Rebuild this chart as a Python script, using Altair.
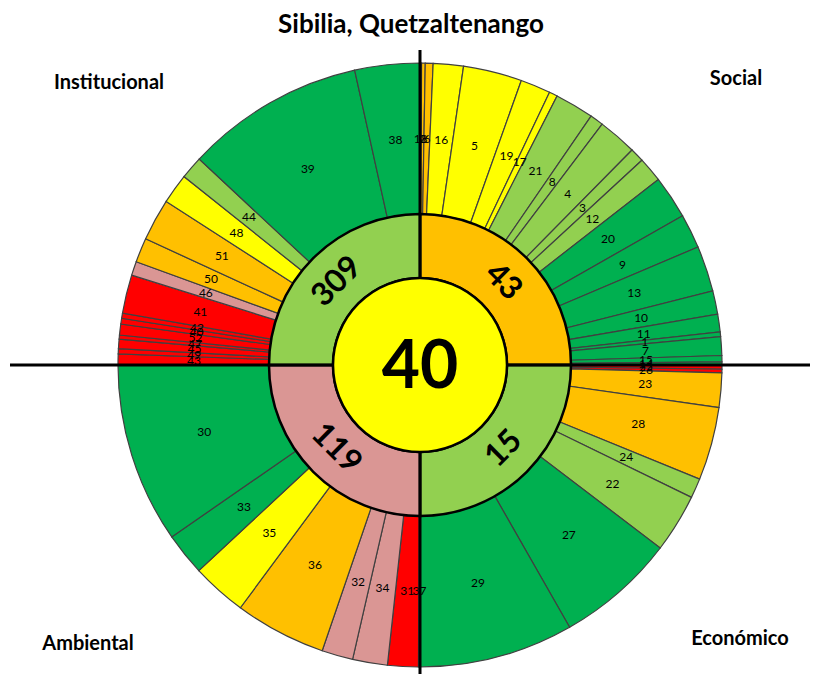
import math
import altair as alt
import pandas as pd

# ---------------- data ----------------
title_text = "Sibilia, Quetzaltenango"
center_value = [40]

# outer ring: indicator number, angular share (degrees of 360), level class
outer_labels = ["18", "2", "6", "16", "5", "19", "17", "21", "8", "4", "3", "12",
                "20", "9", "13", "10", "11", "1", "7", "15", "14",
                "25", "26", "23", "28", "24", "22", "27", "29",
                "37", "31", "34", "32", "36", "35", "33", "30",
                "43", "49", "45", "47", "52", "40", "42", "41", "46", "50", "51",
                "48", "44", "39", "38"]
outer_spans = [0.3, 0.7, 1.5, 5.8, 11.3, 5.8, 1.6, 7.5, 2.6, 7.5, 2.7, 4.8,
               8.3, 6.6, 8.8, 4.5, 3.4, 0.9, 3.6, 1.2, 0.6,
               0.8, 0.7, 6.6, 14.1, 3.8, 11.3, 23.0, 29.7,
               0.3, 5.9, 6.7, 6.0, 17.6, 10.6, 8.2, 34.7,
               2.1, 1.0, 1.8, 0.8, 2.1, 1.1, 1.0, 7.4, 2.7, 4.7, 8.1,
               5.8, 4.4, 34.5, 12.5]
outer_levels = ["r", "o", "o", "y", "y", "y", "y", "lg", "lg", "lg", "lg", "lg",
                "g", "g", "g", "g", "g", "g", "g", "g", "g",
                "r", "r", "o", "o", "lg", "lg", "g", "g",
                "r", "r", "p", "p", "o", "y", "g", "g",
                "r", "r", "r", "r", "r", "r", "r", "r", "p", "o", "o",
                "y", "lg", "g", "g"]

# inner ring: dimensions
ring_names = ["Social", "Económico", "Ambiental", "Institucional"]
ring_values = [43, 15, 119, 309]
ring_spans = [90, 90, 90, 90]
ring_levels = ["o", "lg", "p", "lg"]

level_domain = ["g", "lg", "y", "o", "r", "p", "c"]
level_range = ["#00B050", "#92D050", "#FFFF00", "#FFC000", "#FF0000", "#DA9694", "#FFFF00"]

# ---------------- chart ----------------
FONT = "Lato"
CX, CY = 412, 357
R_OUT, R_MID, R_IN = 302, 151, 87

theta_scale = alt.Scale(domain=[0, 360], range=[0, 2 * math.pi])
color_scale = alt.Scale(domain=level_domain, range=level_range)

outer_df = pd.DataFrame({"idx": list(range(len(outer_labels))), "label": outer_labels,
                         "span": outer_spans, "level": outer_levels})
ring_df = pd.DataFrame({"idx": list(range(4)), "name": ring_names, "value": ring_values,
                        "span": ring_spans, "level": ring_levels})


def cumulate(df):
    return (alt.Chart(df)
            .transform_window(end="sum(span)", sort=[alt.SortField("idx")], frame=[None, 0])
            .transform_calculate(start="datum.end - datum.span",
                                 mid="datum.end - datum.span / 2"))


outer_base = cumulate(outer_df)
ring_base = cumulate(ring_df)

pos = dict(x=alt.value(CX), y=alt.value(CY))

outer_arcs = outer_base.mark_arc(radius=R_OUT, radius2=R_MID, stroke="#404040", strokeWidth=1.2).encode(
    theta=alt.Theta("start:Q", scale=theta_scale, stack=False),
    theta2="end:Q",
    color=alt.Color("level:N", scale=color_scale, legend=None),
    **pos,
)

outer_text = outer_base.mark_text(radius=226, fontSize=12, font=FONT, color="black").encode(
    theta=alt.Theta("mid:Q", scale=theta_scale, stack=False),
    text="label:N",
    **pos,
)

ring_arcs = ring_base.mark_arc(radius=R_MID, radius2=R_IN, stroke="black", strokeWidth=2.5).encode(
    theta=alt.Theta("start:Q", scale=theta_scale, stack=False),
    theta2="end:Q",
    color=alt.Color("level:N", scale=color_scale, legend=None),
    **pos,
)

ring_text = ring_base.transform_calculate(ang="datum.idx % 2 == 0 ? 45 : 315").mark_text(
    radius=118, fontSize=32, fontWeight="bold", font=FONT, color="black").encode(
    theta=alt.Theta("mid:Q", scale=theta_scale, stack=False),
    text="value:Q",
    angle=alt.Angle("ang:Q", scale=None),
    **pos,
)

dummy = pd.DataFrame({"a": [0]})
hline = alt.Chart(dummy).mark_rule(color="black", strokeWidth=3).encode(
    x=alt.value(2), x2=alt.value(810), y=alt.value(CY))
vline = alt.Chart(dummy).mark_rule(color="black", strokeWidth=3).encode(
    x=alt.value(CX), y=alt.value(42), y2=alt.value(667))

center_df = pd.DataFrame({"v": center_value})
center_arc = alt.Chart(center_df).mark_arc(radius=R_IN, color="#FFFF00", stroke="black", strokeWidth=2.5).encode(
    theta=alt.value(0), theta2=alt.value(2 * math.pi), **pos)
center_text = alt.Chart(center_df).mark_text(fontSize=66, fontWeight="bold", font=FONT, color="black").encode(
    x=alt.value(CX), y=alt.value(CY + 3), text="v:Q")

title_df = pd.DataFrame({"t": [title_text]})
title = alt.Chart(title_df).mark_text(fontSize=26, fontWeight="bold", font=FONT, color="black").encode(
    x=alt.value(403), y=alt.value(17), text="t:N")

quad_pos = {"Social": (728, 71), "Económico": (732, 631), "Ambiental": (80, 636), "Institucional": (101, 75)}
quad_layers = []
for nm in ring_names:
    qx, qy = quad_pos[nm]
    quad_layers.append(
        alt.Chart(pd.DataFrame({"n": [nm]})).mark_text(fontSize=20, fontWeight="bold", font=FONT, color="black")
        .encode(x=alt.value(qx), y=alt.value(qy), text="n:N"))

chart = alt.layer(
    outer_arcs, ring_arcs, hline, vline, center_arc, outer_text, ring_text, center_text, title, *quad_layers
).properties(
    width=802, height=666, padding=0, autosize=alt.AutoSizeParams(type="none")
).configure_view(stroke=None)

chart.save("out.html", embed_options={"renderer": "svg", "actions": False})
